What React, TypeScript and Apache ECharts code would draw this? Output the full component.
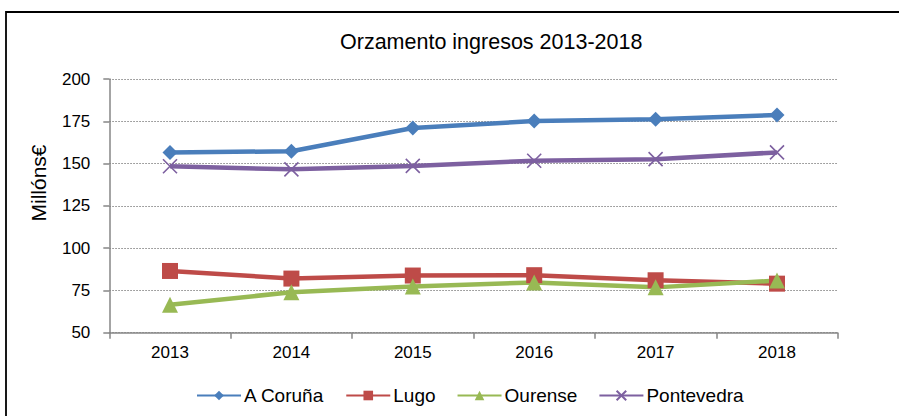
import React, { useEffect, useRef } from "react";
import * as echarts from "echarts";

const years = ["2013", "2014", "2015", "2016", "2017", "2018"];
const aCoruna = [156.5, 157.3, 171, 175.1, 176.2, 178.7];
const lugo = [86.5, 82, 83.8, 84, 81, 79];
const ourense = [66.5, 73.9, 77.3, 79.7, 76.8, 80.8];
const pontevedra = [148.4, 146.6, 148.6, 151.7, 152.6, 156.6];
const yTicks = { min: 50, max: 200, interval: 25 };
const seriesNames = ["A Coruña", "Lugo", "Ourense", "Pontevedra"];
const titleText = "Orzamento ingresos 2013-2018";
const yName = "Millóns€";

const FONT = "Liberation Sans, Arial, sans-serif";

export default function App() {
  const ref = useRef<HTMLDivElement>(null);
  useEffect(() => {
    if (!ref.current) return;
    const chart = echarts.init(ref.current, null, { renderer: "svg" });
    const mk = (name: string, data: number[], color: string, symbol: string, size: number) => ({
      name,
      type: "line",
      data,
      symbol,
      symbolSize: size,
      lineStyle: { color, width: 4.5 },
      itemStyle: { color },
      emphasis: { disabled: true },
    });
    chart.setOption({
      animation: false,
      textStyle: { fontFamily: FONT },
      title: {
        text: titleText,
        left: 340,
        top: 31,
        padding: 0,
        textStyle: { fontSize: 21.5, fontWeight: "normal", color: "#000", fontFamily: FONT },
      },
      graphic: [
        {
          type: "rect",
          shape: { x: 6, y: 12, width: 920, height: 420 },
          style: { fill: "none", stroke: "#000", lineWidth: 1.8 },
          silent: true,
        },
        {
          type: "text",
          x: 38.5,
          y: 183,
          rotation: Math.PI / 2,
          style: {
            text: yName,
            fontSize: 21,
            fontFamily: FONT,
            fill: "#000",
            align: "center",
            verticalAlign: "middle",
          },
          silent: true,
        },
      ],
      legend: {
        left: 196,
        top: 386,
        padding: 0,
        itemWidth: 44,
        itemHeight: 12,
        itemGap: 21,
        textStyle: { fontSize: 19, color: "#000", fontFamily: FONT, padding: [0, 0, 0, -2] },
        data: seriesNames,
      },
      grid: { left: 109.3, right: 61.3, top: 79, bottom: 83.3 },
      xAxis: {
        type: "category",
        data: years,
        boundaryGap: true,
        axisLine: { lineStyle: { color: "#868686", width: 1.5 } },
        axisTick: { show: true, length: 6, lineStyle: { color: "#868686", width: 1.5 } },
        axisLabel: { color: "#000", fontSize: 17, margin: 11, fontFamily: FONT },
      },
      yAxis: {
        type: "value",
        min: yTicks.min,
        max: yTicks.max,
        interval: yTicks.interval,
        axisLine: { show: true, lineStyle: { color: "#868686", width: 1.5 } },
        axisTick: { show: true, length: 6, lineStyle: { color: "#868686", width: 1.5 } },
        axisLabel: { color: "#000", fontSize: 17, margin: 19, fontFamily: FONT },
        splitLine: { lineStyle: { color: "#868686", type: [1.5, 1.5], width: 1.2 } },
      },
      series: [
        mk(seriesNames[0], aCoruna, "#4A7EBB", "diamond", 15),
        mk(seriesNames[1], lugo, "#BE4B48", "rect", 16),
        mk(seriesNames[2], ourense, "#98B954", "triangle", 16),
        {
          ...mk(seriesNames[3], pontevedra, "#7D60A0", "path://M0,0L10,10M10,0L0,10", 14),
          itemStyle: { color: "none", borderColor: "#7D60A0", borderWidth: 1.6 },
        },
      ],
    });
    return () => chart.dispose();
  }, []);
  return (
    <div
      ref={ref}
      style={{ position: "fixed", left: 0, top: 0, width: 899, height: 416, background: "#fff" }}
    />
  );
}
